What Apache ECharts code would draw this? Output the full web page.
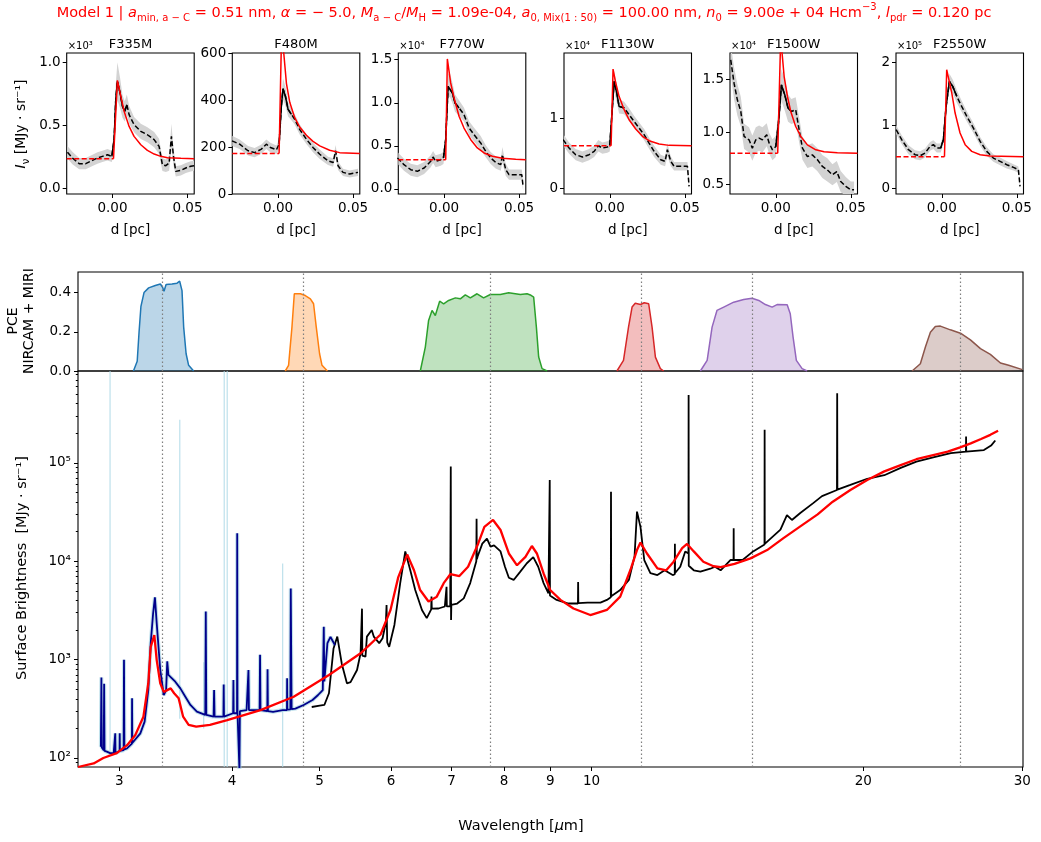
<!DOCTYPE html>
<html>
<head>
<meta charset="utf-8">
<script src="https://cdn.jsdelivr.net/npm/echarts@6.0.0/dist/echarts.min.js"></script>
<style>
html,body{margin:0;padding:0;background:#ffffff;}
#chart{width:1041px;height:842px;}
</style>
</head>
<body>
<div id="chart"></div>
<script>
// ================= DATA =================
const filterNames = ['F335M', 'F480M', 'F770W', 'F1130W', 'F1500W', 'F2550W'];
const offsetLabels = ['×10³', '', '×10⁴', '×10⁴', '×10⁴', '×10⁵'];
const filterCenters = [3.35, 4.80, 7.72, 11.35, 15.05, 25.6];

// --- small panels: distance d [pc], intensity in the panel's displayed units ---
const p1ObsD = [-0.030,-0.0267,-0.0222,-0.0178,-0.0133,-0.010,-0.0067,-0.0033,-0.0004,0.0011,0.0022,0.0033,0.0051,0.0067,0.0082,0.0096,0.0111,0.0144,0.0189,0.0233,0.0278,0.0311,0.0333,0.0356,0.0378,0.0393,0.0407,0.0422,0.0456,0.0489,0.0522,0.0544];
const p1ObsI = [0.288,0.243,0.198,0.198,0.224,0.243,0.256,0.269,0.256,0.388,0.704,0.85,0.757,0.652,0.612,0.665,0.586,0.507,0.454,0.427,0.388,0.335,0.19,0.182,0.203,0.414,0.256,0.137,0.145,0.164,0.177,0.182];
const p1Err  = [0.05,0.05,0.045,0.045,0.045,0.045,0.045,0.045,0.045,0.08,0.12,0.15,0.12,0.09,0.08,0.08,0.07,0.06,0.06,0.06,0.06,0.06,0.05,0.05,0.06,0.1,0.07,0.04,0.04,0.04,0.04,0.04];
const p1ModD = [0.0007,0.0033,0.0056,0.0078,0.0111,0.0144,0.0189,0.0233,0.0278,0.0322,0.0367,0.0456,0.0545];
const p1ModI = [0.237,0.858,0.731,0.612,0.493,0.414,0.348,0.303,0.274,0.256,0.245,0.240,0.237];

const p2ObsD = [-0.0307,-0.0256,-0.02,-0.0156,-0.0111,-0.0078,-0.0051,-0.0011,0.0007,0.0022,0.0033,0.0049,0.0067,0.0089,0.0111,0.0144,0.0189,0.0233,0.0278,0.0333,0.0367,0.0384,0.04,0.0433,0.0478,0.0533];
const p2ObsI = [226,212,184,176,191,212,198,188,212,374,448,416,360,339,318,275,233,198,169,141,134,184,120,92,85,92];
const p2Err  = [22,20,20,20,20,20,20,18,20,35,45,40,30,25,22,22,20,20,20,18,18,25,18,15,15,15];
const p2ModD = [0.0007,0.0024,0.0038,0.0056,0.0078,0.0111,0.0144,0.0189,0.0233,0.0278,0.0344,0.0411,0.0545];
const p2ModI = [172,700,600,470,390,325,285,250,224,205,186,176,172];

const p3ObsD = [-0.0311,-0.0267,-0.0222,-0.0178,-0.0133,-0.0089,-0.0073,-0.0056,-0.0022,-0.0004,0.0011,0.0027,0.0038,0.0056,0.0073,0.01,0.0133,0.0167,0.02,0.0244,0.0278,0.0311,0.0344,0.0378,0.0389,0.0411,0.0433,0.0478,0.0518,0.0527];
const p3ObsI = [0.36,0.282,0.224,0.205,0.244,0.321,0.371,0.321,0.34,0.36,0.572,1.19,1.21,1.113,0.997,0.94,0.862,0.707,0.63,0.534,0.437,0.36,0.309,0.282,0.398,0.224,0.166,0.166,0.166,0.03];
const p3Err  = [0.07,0.07,0.07,0.07,0.07,0.07,0.07,0.07,0.07,0.07,0.09,0.14,0.14,0.12,0.1,0.09,0.08,0.08,0.08,0.08,0.07,0.07,0.07,0.07,0.09,0.07,0.06,0.06,0.06,0.05];
const p3ModD = [0.0011,0.0022,0.0044,0.0067,0.01,0.0133,0.0178,0.0222,0.0267,0.0322,0.0389,0.0478,0.0545];
const p3ModI = [0.34,1.508,1.23,1.055,0.843,0.707,0.572,0.476,0.418,0.379,0.356,0.344,0.34];

const p4ObsD = [-0.0311,-0.0271,-0.0227,-0.0182,-0.0138,-0.0104,-0.0076,-0.0049,-0.0016,0,0.0018,0.0029,0.0047,0.0062,0.0096,0.0129,0.0162,0.0196,0.0229,0.0262,0.0296,0.034,0.0369,0.0384,0.0407,0.0429,0.0473,0.0518,0.0529];
const p4ObsI = [0.693,0.575,0.481,0.448,0.481,0.528,0.608,0.575,0.59,0.608,1.165,1.519,1.354,1.165,1.142,1.047,0.953,0.858,0.764,0.646,0.528,0.41,0.387,0.552,0.387,0.316,0.316,0.316,0.033];
const p4Err  = [0.08,0.08,0.08,0.08,0.08,0.08,0.08,0.08,0.08,0.08,0.1,0.14,0.13,0.1,0.09,0.09,0.08,0.08,0.08,0.08,0.08,0.07,0.07,0.09,0.07,0.06,0.06,0.06,0.05];
const p4ModD = [0.0009,0.0022,0.004,0.0062,0.0096,0.0129,0.0173,0.0218,0.0262,0.0329,0.0396,0.0545];
const p4ModI = [0.608,1.693,1.495,1.307,1.118,0.976,0.844,0.741,0.679,0.632,0.613,0.608];

const p5ObsD = [-0.030,-0.0278,-0.0256,-0.0233,-0.0211,-0.0178,-0.0156,-0.0133,-0.0111,-0.0089,-0.006,-0.0044,-0.0022,0,0.0018,0.0038,0.006,0.0082,0.0104,0.0133,0.0156,0.0178,0.0211,0.0244,0.0278,0.0311,0.0344,0.0378,0.0407,0.0433,0.0467,0.05,0.0522];
const p5ObsI = [1.689,1.467,1.308,1.197,0.959,0.927,0.848,0.927,0.943,0.927,0.975,0.895,0.832,0.863,1.086,1.45,1.356,1.229,1.197,1.213,1.022,0.848,0.768,0.784,0.737,0.673,0.641,0.594,0.625,0.53,0.483,0.451,0.451];
const p5Err  = [0.15,0.15,0.15,0.14,0.12,0.12,0.12,0.12,0.12,0.12,0.11,0.1,0.1,0.1,0.12,0.15,0.15,0.13,0.12,0.12,0.12,0.11,0.11,0.11,0.11,0.11,0.11,0.1,0.1,0.1,0.09,0.08,0.08];
const p5ModD = [0.0013,0.0033,0.0056,0.0078,0.01,0.0133,0.0167,0.0211,0.0267,0.0322,0.0411,0.0545];
const p5ModI = [0.8,1.9,1.53,1.34,1.197,1.054,0.959,0.879,0.832,0.813,0.803,0.8];

const p6ObsD = [-0.0304,-0.0267,-0.0222,-0.0178,-0.0144,-0.0111,-0.0078,-0.0056,-0.0033,-0.0007,0.0011,0.0029,0.0051,0.0073,0.01,0.0133,0.0167,0.0211,0.0256,0.03,0.0344,0.0389,0.0433,0.0478,0.0511,0.0522];
const p6ObsI = [0.934,0.776,0.617,0.538,0.522,0.565,0.67,0.697,0.644,0.644,0.776,1.303,1.699,1.62,1.462,1.303,1.145,0.96,0.749,0.591,0.485,0.433,0.38,0.338,0.301,0.037];
const p6Err  = [0.07,0.07,0.07,0.07,0.07,0.07,0.07,0.07,0.07,0.07,0.08,0.11,0.12,0.11,0.1,0.09,0.08,0.08,0.07,0.07,0.06,0.06,0.06,0.05,0.05,0.04];
const p6ModD = [0.0018,0.0033,0.0044,0.0067,0.0089,0.0122,0.0156,0.02,0.0256,0.0322,0.0545];
const p6ModI = [0.507,1.884,1.86,1.514,1.198,0.881,0.697,0.591,0.538,0.517,0.507];

const modelBaselines = [0.237, 172, 0.34, 0.608, 0.8, 0.507];
const panelYRanges = [[-0.042,1.074],[0,600],[-0.058,1.577],[-0.075,1.92],[0.411,1.754],[-0.084,2.148]];
const panelYTicks = [[0,0.5,1],[0,200,400,600],[0,0.5,1,1.5],[0,1],[0.5,1,1.5],[0,1,2]];
const panelYDecimals = [1,0,1,0,1,0];
const dTicks = [0, 0.05];

// --- filter throughputs (PCE) vs wavelength [um] ---
const f335Wave = [3.11,3.14,3.155,3.17,3.195,3.233,3.288,3.331,3.35,3.362,3.38,3.431,3.476,3.499,3.52,3.535,3.557,3.58,3.626];
const f335Pce  = [0,0.05,0.2,0.33,0.40,0.424,0.436,0.444,0.427,0.407,0.441,0.444,0.448,0.458,0.41,0.224,0.088,0.029,0];
const f480Wave = [4.58,4.619,4.659,4.687,4.707,4.76,4.82,4.883,4.923,4.957,4.999,5.03,5.1];
const f480Pce  = [0,0.029,0.224,0.394,0.402,0.394,0.385,0.368,0.343,0.224,0.088,0.029,0];
const f770Wave = [6.463,6.546,6.601,6.659,6.715,6.79,6.859,6.947,7.067,7.157,7.249,7.342,7.469,7.595,7.726,7.926,8.096,8.235,8.341,8.485,8.556,8.629,8.689,8.74,8.816,8.93];
const f770Pce  = [0,0.122,0.258,0.309,0.283,0.356,0.343,0.36,0.373,0.368,0.388,0.373,0.394,0.373,0.39,0.39,0.399,0.394,0.39,0.394,0.388,0.377,0.224,0.071,0.012,0];
const f1130Wave = [10.67,10.85,10.99,11.09,11.18,11.33,11.44,11.57,11.67,11.77,11.92,12.02];
const f1130Pce  = [0,0.054,0.224,0.326,0.346,0.339,0.348,0.343,0.224,0.071,0.012,0];
const f1500Wave = [13.2,13.43,13.6,13.77,14.01,14.37,14.74,15.06,15.32,15.58,15.85,16.05,16.47,16.6,16.72,16.86,17.11,17.33];
const f1500Pce  = [0,0.054,0.224,0.309,0.326,0.351,0.365,0.371,0.36,0.339,0.326,0.339,0.338,0.292,0.173,0.054,0.012,0];
const f2550Wave = [22.65,23.13,23.43,23.73,24.03,24.34,24.97,25.62,26.28,26.96,27.65,28.37,28.97,30.0];
const f2550Pce  = [0,0.037,0.122,0.198,0.227,0.229,0.21,0.193,0.159,0.114,0.085,0.041,0.029,0.007];

// --- spectra: wavelength [um], surface brightness [MJy sr^-1] ---
const nirspecWave = [2.862,2.866,2.869,2.883,2.886,2.889,2.906,2.93,2.957,2.968,2.969,2.971,3.002,3.003,3.005,3.033,3.036,3.039,3.059,3.098,3.099,3.101,3.11,3.165,3.2,3.23,3.25,3.27,3.285,3.30,3.33,3.36,3.38,3.39,3.40,3.417,3.46,3.505,3.55,3.596,3.656,3.735,3.74,3.745,3.815,3.82,3.825,3.912,3.915,3.918,4.01,4.013,4.016,4.05,4.052,4.055,4.075,4.08,4.15,4.17,4.175,4.29,4.295,4.30,4.375,4.378,4.382,4.44,4.55,4.6,4.602,4.605,4.64,4.645,4.65,4.655,4.7,4.8,4.91,4.98,5.04,5.053,5.06,5.1,5.14,5.2];
const nirspecFlux = [130,660,128,120,570,118,116,112,112,112,178,112,118,178,118,120,1000,122,125,140,404,142,147,178,234,490,1470,2960,4300,2350,785,437,490,960,700,670,597,510,420,346,296,274,3090,274,263,490,263,263,560,263,285,620,285,285,19300,290,75,300,307,785,307,307,1120,307,300,800,300,295,307,307,645,310,312,5300,1150,315,318,346,389,437,490,2160,600,1470,1700,1400];
const nirspecArtefactWave = [2.93, 3.50, 3.72, 3.92, 3.95, 4.55];
const nirspecArtefactLow  = [110, 250, 200, 81, 81, 81];
const nirspecArtefactHigh = [860000, 275000, 940, 860000, 860000, 9500];

const miriWave = [4.90,5.00,5.06,5.12,5.18,5.23,5.29,5.36,5.41,5.50,5.55,5.565,5.57,5.575,5.62,5.64,5.71,5.74,5.82,5.87,5.92,5.93,5.94,5.97,6.05,6.08,6.14,6.22,6.30,6.38,6.49,6.57,6.645,6.65,6.655,6.77,6.88,6.905,6.91,6.915,6.975,6.985,6.99,6.995,7.10,7.22,7.34,7.455,7.46,7.465,7.48,7.57,7.66,7.73,7.80,7.93,8.02,8.10,8.20,8.34,8.48,8.62,8.73,8.85,8.96,8.985,8.99,8.995,9.15,9.43,9.66,9.665,9.67,9.90,10.23,10.40,10.505,10.51,10.515,10.76,11.00,11.16,11.23,11.33,11.44,11.62,11.83,12.05,12.30,12.365,12.37,12.375,12.54,12.70,12.805,12.81,12.815,12.98,13.20,13.54,13.70,13.90,14.25,14.365,14.37,14.375,14.70,15.10,15.545,15.55,15.555,15.63,16.19,16.46,16.67,17.03,17.60,18.00,18.70,18.71,18.72,19.35,20.20,21.10,22.00,22.90,23.90,25.00,25.98,25.99,26.00,27.20,27.70,28.00];
const miriFlux = [330,340,346,455,1300,1715,910,575,590,785,1160,1150,3300,1100,1070,1715,2000,1715,1470,1650,2400,3600,1500,1350,2250,2300,6000,12600,8100,5100,3200,2640,3250,4370,3300,3310,3470,3480,5500,3480,3500,92000,2530,3600,3720,4200,6000,10000,27000,10500,11200,15100,17000,14100,14500,12600,8800,6800,6460,7850,9550,11000,8800,6000,4720,4600,67000,4500,4050,3720,3720,6150,3750,3800,3800,4050,4300,51000,4400,5100,6460,11200,32000,22400,10300,7580,7240,8100,7240,7400,15100,7600,8800,12600,12000,490000,9000,8100,7850,8400,8800,8100,10300,10300,21700,10300,10300,12600,14800,217000,15000,15100,21000,29500,26300,31000,39000,46000,53000,510000,53500,59700,69000,75000,89000,103000,114000,126000,130000,186000,130000,135000,150000,169000];

const modelWave = [2.70,2.81,2.88,2.98,3.06,3.125,3.19,3.23,3.25,3.28,3.30,3.33,3.36,3.42,3.45,3.49,3.53,3.58,3.65,3.78,3.95,4.30,4.68,5.12,5.55,5.84,5.99,6.11,6.25,6.36,6.46,6.60,6.74,6.86,6.98,7.14,7.30,7.49,7.61,7.78,7.93,8.10,8.27,8.45,8.59,8.70,8.85,9.0,9.24,9.55,9.97,10.4,10.76,11.04,11.23,11.33,11.52,11.83,12.1,12.33,12.6,12.76,12.98,13.3,13.65,13.9,14.4,15.0,15.65,16.3,17.0,17.8,18.5,19.35,20.2,21.1,22.0,22.9,23.9,24.8,25.6,26.3,27.0,27.65,28.2];
const modelFlux = [81,88,100,112,135,171,263,575,1350,1780,990,575,470,510,455,404,263,217,208,217,243,307,420,698,1160,1800,3200,6900,11700,8100,5100,3900,4370,5990,7420,7080,8800,15100,22400,26300,20800,12000,9100,11100,14300,12000,7520,5100,4050,3310,2840,3200,4370,8100,13000,15500,12000,8470,8100,9900,13600,15000,12600,9900,8900,8700,9400,10700,13000,17100,22400,30000,40300,53000,67000,82000,95000,109000,120000,130000,144000,158000,175000,193000,212000];

const wavelengthTicks = [3, 4, 5, 6, 7, 8, 9, 10, 20, 30];
const brightnessTicks = [100, 1000, 10000, 100000];
const pceTicks = [0, 0.2, 0.4];

// ================= STYLE / LAYOUT =================
const FONT = 'DejaVu Sans';
const FF = '"DejaVu Sans"';
const smallLefts = [66.7, 232.3, 398.3, 564, 730, 896];
const smallWidth = 127.5, smallTop = 53, smallHeight = 141;
const dMin = -0.0305, dMax = 0.0545;
const mainLeft = 78, mainWidth = 945;
const pceTop = 272, pceHeight = 99, specTop = 371, specHeight = 396;
const lamMin = 2.7, lamMax = 30.05, sbMin = 81, sbMax = 8.6e5;
const filterColors = ['#1f77b4', '#ff7f0e', '#2ca02c', '#d62728', '#9467bd', '#8c564b'];

const obsDs = [p1ObsD, p2ObsD, p3ObsD, p4ObsD, p5ObsD, p6ObsD];
const obsIs = [p1ObsI, p2ObsI, p3ObsI, p4ObsI, p5ObsI, p6ObsI];
const errs = [p1Err, p2Err, p3Err, p4Err, p5Err, p6Err];
const modDs = [p1ModD, p2ModD, p3ModD, p4ModD, p5ModD, p6ModD];
const modIs = [p1ModI, p2ModI, p3ModI, p4ModI, p5ModI, p6ModI];
const filterWaves = [f335Wave, f480Wave, f770Wave, f1130Wave, f1500Wave, f2550Wave];
const filterPces = [f335Pce, f480Pce, f770Pce, f1130Pce, f1500Pce, f2550Pce];

const zip = (a, b) => a.map((v, k) => [v, b[k]]);
const labelBase = { color: '#000', fontSize: 13.5, fontFamily: FONT };
const gridBase = { show: true, borderColor: '#000', borderWidth: 1.1, backgroundColor: 'rgba(0,0,0,0)', containLabel: false, outerBoundsMode: 'none' };

const grids = [], xAxes = [], yAxes = [], series = [], texts = [];

function richSet(size, color) {
  const ss = Math.round(size * 0.7);
  return {
    i: { font: 'italic ' + size + 'px ' + FF, fontSize: size, fontFamily: FONT, fontStyle: 'italic', fill: color, lineHeight: size + 6 },
    s: { font: ss + 'px ' + FF, fontSize: ss, fontFamily: FONT, fill: color, lineHeight: ss + 1, verticalAlign: 'bottom' },
    u: { font: ss + 'px ' + FF, fontSize: ss, fontFamily: FONT, fill: color, lineHeight: ss + 1, verticalAlign: 'top' }
  };
}
function addText(x, y, text, size, opts) {
  opts = opts || {};
  const color = opts.color || '#000';
  texts.push({
    type: 'text', x: x, y: y, silent: true, z: 100,
    rotation: opts.rotation || 0,
    style: {
      text: text, font: size + 'px ' + FF, fontSize: size, fontFamily: FONT, fill: color,
      align: opts.align || 'center', verticalAlign: 'middle',
      lineHeight: opts.lineHeight || size + 6, rich: richSet(size, color)
    }
  });
}

// shaded uncertainty band drawn as one polygon through the axes' coordinate system
function bandSeries(idx, D, lo, hi, color) {
  return {
    type: 'custom', xAxisIndex: idx, yAxisIndex: idx, silent: true, z: 1,
    data: D.map((d, k) => [d, lo[k], hi[k]]),
    encode: { x: 0, y: [1, 2] },
    renderItem: function (params, api) {
      if (params.dataIndex !== 0) return null;
      const pts = [];
      for (let k = 0; k < D.length; k++) pts.push(api.coord([D[k], hi[k]]));
      for (let k = D.length - 1; k >= 0; k--) pts.push(api.coord([D[k], lo[k]]));
      const cs = params.coordSys;
      return {
        type: 'polygon', shape: { points: pts }, style: { fill: color },
        clipPath: { type: 'rect', shape: { x: cs.x, y: cs.y, width: cs.width, height: cs.height } }
      };
    }
  };
}

// ---- small panels ----
for (let i = 0; i < 6; i++) {
  grids.push(Object.assign({ left: smallLefts[i], top: smallTop, width: smallWidth, height: smallHeight }, gridBase));
  xAxes.push({
    type: 'value', gridIndex: i, min: dMin, max: dMax,
    axisLine: { show: false, onZero: false }, splitLine: { show: false },
    axisTick: { show: true, customValues: dTicks, length: 4, lineStyle: { color: '#000', width: 1 } },
    axisLabel: Object.assign({}, labelBase, { customValues: dTicks, formatter: v => v.toFixed(2), margin: 7 })
  });
  yAxes.push({
    type: 'value', gridIndex: i, min: panelYRanges[i][0], max: panelYRanges[i][1],
    axisLine: { show: false, onZero: false }, splitLine: { show: false },
    axisTick: { show: true, customValues: panelYTicks[i], length: 4, lineStyle: { color: '#000', width: 1 } },
    axisLabel: Object.assign({}, labelBase, { customValues: panelYTicks[i], formatter: v => v.toFixed(panelYDecimals[i]), margin: 6 })
  });
  const D = obsDs[i], I = obsIs[i], E = errs[i];
  const common = { type: 'line', xAxisIndex: i, yAxisIndex: i, symbol: 'none', silent: true, emphasis: { disabled: true } };
  series.push(bandSeries(i, D, I.map((v, k) => v - E[k]), I.map((v, k) => v + E[k]), '#d3d3d3'));
  series.push(Object.assign({}, common, { lineStyle: { color: '#000', width: 1.5, type: [5, 2.5] }, data: zip(D, I), z: 3 }));
  const solid = zip(D, I).filter(p => p[0] >= -0.0008 && p[0] <= 0.0105);
  series.push(Object.assign({}, common, { lineStyle: { color: '#000', width: 1.5 }, data: solid, z: 3 }));
  series.push(Object.assign({}, common, { lineStyle: { color: '#ff0000', width: 1.5, type: [5, 2.5] }, data: [[dMin, modelBaselines[i]], [modDs[i][0], modelBaselines[i]]], z: 4 }));
  series.push(Object.assign({}, common, { lineStyle: { color: '#ff0000', width: 1.5 }, data: zip(modDs[i], modIs[i]), z: 4 }));

  addText(smallLefts[i] + smallWidth / 2, 45, filterNames[i], 13);
  if (offsetLabels[i]) addText(smallLefts[i] + 1, 46, offsetLabels[i], 10, { align: 'left' });
  addText(smallLefts[i] + smallWidth / 2, 230, 'd [pc]', 13.5);
}

// ---- PCE panel (grid 6) ----
grids.push(Object.assign({ left: mainLeft, top: pceTop, width: mainWidth, height: pceHeight }, gridBase));
xAxes.push({
  type: 'log', logBase: 10, gridIndex: 6, min: lamMin, max: lamMax,
  axisLine: { show: false, onZero: false }, splitLine: { show: false }, minorTick: { show: false },
  axisTick: { show: false }, axisLabel: { show: false }
});
yAxes.push({
  type: 'value', gridIndex: 6, min: 0, max: 0.505,
  axisLine: { show: false, onZero: false }, splitLine: { show: false },
  axisTick: { show: true, customValues: pceTicks, length: 4, lineStyle: { color: '#000' } },
  axisLabel: Object.assign({}, labelBase, { customValues: pceTicks, formatter: v => v.toFixed(1), margin: 7 })
});
const dottedMark = {
  silent: true, symbol: ['none', 'none'], label: { show: false }, emphasis: { disabled: true },
  lineStyle: { type: [1.5, 2.5], color: '#7f7f7f', width: 1.2 },
  data: filterCenters.map(c => ({ xAxis: c }))
};
for (let f = 0; f < 6; f++) {
  const s = {
    type: 'line', xAxisIndex: 6, yAxisIndex: 6, symbol: 'none', silent: true, emphasis: { disabled: true },
    lineStyle: { color: filterColors[f], width: 1.5 },
    areaStyle: { color: filterColors[f], opacity: 0.3 },
    data: zip(filterWaves[f], filterPces[f]), z: 3
  };
  if (f === 0) s.markLine = dottedMark;
  series.push(s);
}

// ---- spectrum panel (grid 7) ----
grids.push(Object.assign({ left: mainLeft, top: specTop, width: mainWidth, height: specHeight }, gridBase));
xAxes.push({
  type: 'log', logBase: 10, gridIndex: 7, min: lamMin, max: lamMax,
  axisLine: { show: false, onZero: false }, splitLine: { show: false }, minorTick: { show: false },
  axisTick: { show: true, customValues: wavelengthTicks, length: 4, lineStyle: { color: '#000' } },
  axisLabel: Object.assign({}, labelBase, { customValues: wavelengthTicks, formatter: v => String(Math.round(v)), margin: 7 })
});
const supDigits = { 2: '²', 3: '³', 4: '⁴', 5: '⁵' };
yAxes.push({
  type: 'log', logBase: 10, gridIndex: 7, min: sbMin, max: sbMax,
  axisLine: { show: false, onZero: false }, splitLine: { show: false }, minorTick: { show: false },
  axisTick: { show: true, customValues: brightnessTicks, length: 4, lineStyle: { color: '#000' } },
  axisLabel: Object.assign({}, labelBase, { customValues: brightnessTicks, formatter: v => '10' + supDigits[Math.round(Math.log10(v))], margin: 7 })
});
const minorSB = [];
for (let e = 1; e <= 5; e++) for (let m = 2; m <= 9; m++) { const v = m * Math.pow(10, e); if (v > sbMin && v < sbMax) minorSB.push(v); }
yAxes.push({
  type: 'log', logBase: 10, gridIndex: 7, min: sbMin, max: sbMax, position: 'left',
  axisLine: { show: false, onZero: false }, splitLine: { show: false }, minorTick: { show: false },
  axisTick: { show: true, customValues: minorSB, length: 2.2, lineStyle: { color: '#000' } },
  axisLabel: { show: false }
});
const specCommon = { type: 'line', xAxisIndex: 7, yAxisIndex: 7, symbol: 'none', silent: true, emphasis: { disabled: true } };
for (let k = 0; k < nirspecArtefactWave.length; k++) {
  series.push(Object.assign({}, specCommon, {
    lineStyle: { color: '#add8e6', width: 1.2, opacity: 0.8 },
    data: [[nirspecArtefactWave[k], nirspecArtefactLow[k]], [nirspecArtefactWave[k], nirspecArtefactHigh[k]]], z: 2
  }));
}
series.push(Object.assign({}, specCommon, { lineStyle: { color: '#add8e6', width: 4, opacity: 0.75 }, data: zip(nirspecWave, nirspecFlux), z: 3 }));
series.push(Object.assign({}, specCommon, { lineStyle: { color: '#000000', width: 1.8 }, data: zip(miriWave, miriFlux), z: 5,
  markLine: dottedMark }));
series.push(Object.assign({}, specCommon, { lineStyle: { color: '#00008b', width: 1.8 }, data: zip(nirspecWave, nirspecFlux), z: 6 }));
series.push(Object.assign({}, specCommon, { lineStyle: { color: '#ff0000', width: 2.3 }, data: zip(modelWave, modelFlux), z: 8 }));

// ---- texts ----
addText(524, 13, 'Model 1 | {i|a}{s|min, a − C} = 0.51 nm, {i|α} = − 5.0, {i|M}{s|a − C}/{i|M}{s|H} = 1.09e-04, {i|a}{s|0, Mix(1 : 50)} = 100.00 nm, {i|n}{s|0} = 9.00{i|e} + 04 Hcm{u|−3}, {i|l}{s|pdr} = 0.120 pc', 14.5, { color: '#ff0000' });
addText(21, 124, '{i|I}{s|ν} [MJy · sr⁻¹]', 14, { rotation: Math.PI / 2 });
addText(21, 321, 'PCE\nNIRCAM + MIRI', 14, { rotation: Math.PI / 2, lineHeight: 16 });
addText(22, 568, 'Surface Brightness  [MJy · sr⁻¹]', 14.5, { rotation: Math.PI / 2 });
addText(521, 826, 'Wavelength [{i|μ}m]', 14.5);

const chart = echarts.init(document.getElementById('chart'), null, { renderer: 'canvas', width: 1041, height: 842 });
chart.setOption({
  animation: false,
  backgroundColor: '#ffffff',
  textStyle: { fontFamily: FONT },
  grid: grids, xAxis: xAxes, yAxis: yAxes, series: series,
  graphic: { elements: texts }
});
</script>
</body>
</html>
